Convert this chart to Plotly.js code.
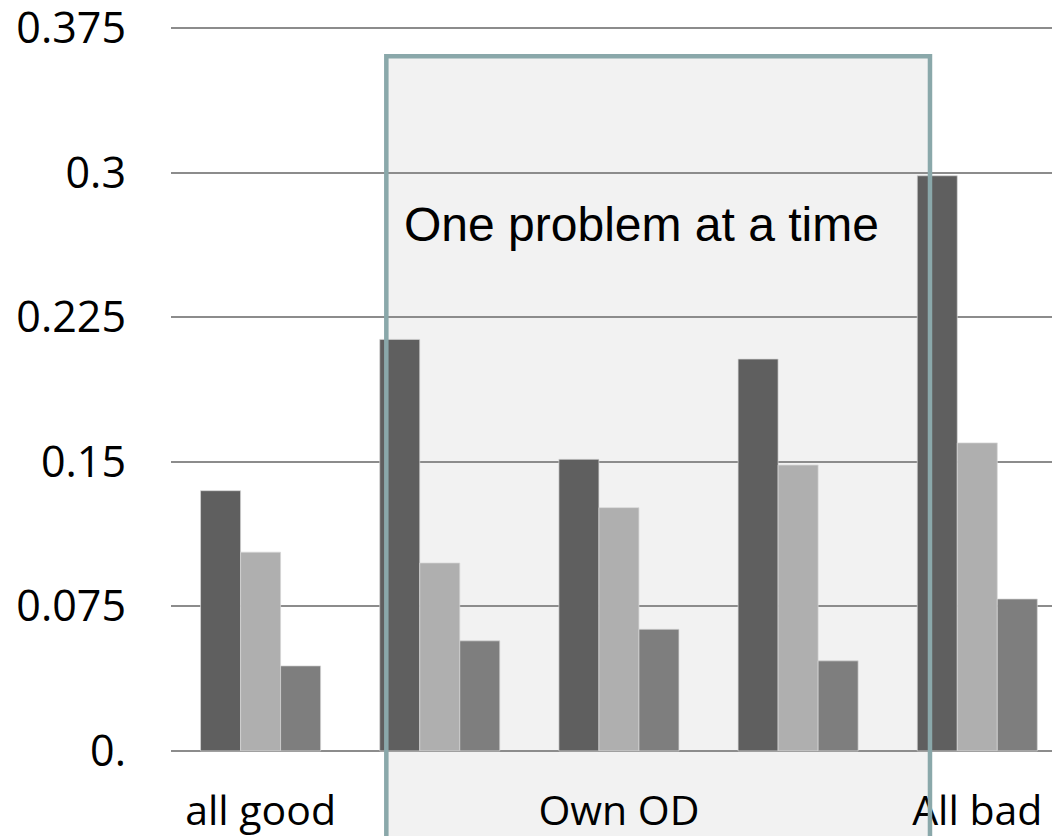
<!DOCTYPE html>
<html>
<head>
<meta charset="utf-8">
<script src="https://cdn.plot.ly/plotly-3.0.1.min.js"></script>
<style>
  html, body { margin: 0; padding: 0; background: #ffffff; }
  #chart { width: 1052px; height: 836px; }
</style>
</head>
<body>
<div id="chart"></div>
<script>
// Category labels (groups 2 and 4 have no label)
const categoryLabels = ["all good", "", "Own OD", "", "All bad"];
const categoryIndex = [0, 1, 2, 3, 4];

// Series values
const seriesDark  = [0.135, 0.2135, 0.1513, 0.2033, 0.2984];
const seriesLight = [0.1031, 0.0975, 0.1262, 0.1483, 0.1598];
const seriesMid   = [0.0441, 0.0571, 0.0631, 0.0467, 0.0788];

// Y ticks
const yTickVals = [0, 0.075, 0.15, 0.225, 0.3, 0.375];
const yTickText = ["0.", "0.075", "0.15", "0.225", "0.3", "0.375"];

const annotationText = "One problem at a time";

const barLine = { color: "rgba(215,215,215,0.7)", width: 1 };

const traces = [
  { type: "bar", x: categoryIndex, y: seriesDark,  marker: { color: "#5f5f5f", line: barLine }, hoverinfo: "skip" },
  { type: "bar", x: categoryIndex, y: seriesLight, marker: { color: "#afafaf", line: barLine }, hoverinfo: "skip" },
  { type: "bar", x: categoryIndex, y: seriesMid,   marker: { color: "#7e7e7e", line: barLine }, hoverinfo: "skip" }
];

const layout = {
  width: 1052,
  height: 836,
  margin: { l: 171, r: 0, t: 26, b: 83, pad: 0 },
  paper_bgcolor: "#ffffff",
  plot_bgcolor: "rgba(0,0,0,0)",
  showlegend: false,
  barmode: "group",
  bargap: 0.33,
  bargroupgap: 0,
  font: { family: "Open Sans, sans-serif", color: "#000000" },
  xaxis: {
    type: "linear",
    range: [-0.5, 4.417],
    tickvals: categoryIndex,
    ticktext: categoryLabels,
    showgrid: false,
    zeroline: false,
    showline: false,
    ticks: "",
    tickfont: { family: "Open Sans, sans-serif", size: 41, color: "#000000" },
    ticklabelstandoff: 30,
    ticklabeloverflow: "allow",
    fixedrange: true
  },
  yaxis: {
    range: [-0.0011, 0.3761],
    tickvals: yTickVals,
    ticktext: yTickText,
    showgrid: true,
    gridcolor: "#8c8c8c",
    gridwidth: 2,
    zeroline: false,
    showline: false,
    ticks: "",
    tickfont: { family: "Open Sans, sans-serif", size: 43, color: "#000000" },
    ticklabelstandoff: 44,
    ticklabeloverflow: "allow",
    fixedrange: true
  },
  shapes: [
    {
      type: "rect", xref: "paper", yref: "paper",
      x0: 0.2444, x1: 0.8615, y0: -0.2, y1: 0.9585,
      fillcolor: "#f2f2f2", line: { width: 0 }, layer: "below"
    },
    {
      type: "rect", xref: "paper", yref: "paper",
      x0: 0.2444, x1: 0.8615, y0: -0.2, y1: 0.9585,
      fillcolor: "rgba(0,0,0,0)", line: { color: "#8aa8aa", width: 4.5 }, layer: "above"
    }
  ],
  annotations: [
    {
      xref: "paper", yref: "paper", x: 0.5346, y: 0.7275,
      xanchor: "center", yanchor: "middle",
      text: annotationText, showarrow: false,
      font: { family: "Liberation Sans, Arial, sans-serif", size: 48, color: "#000000" }
    }
  ]
};

Plotly.newPlot("chart", traces, layout, { displayModeBar: false, staticPlot: true });
</script>
</body>
</html>
